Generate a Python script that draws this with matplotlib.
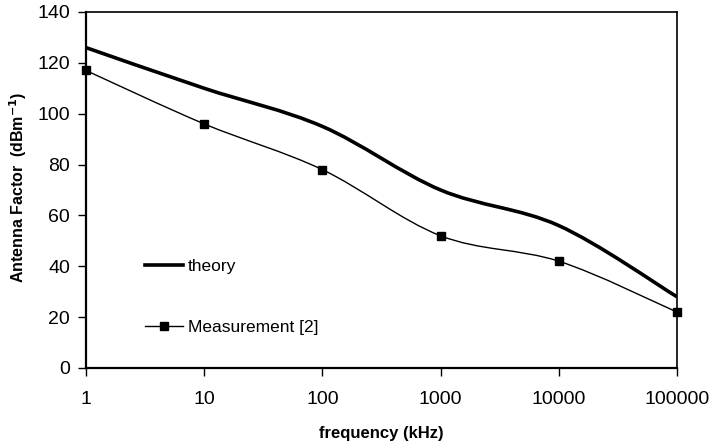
import numpy as np
import matplotlib
matplotlib.use('Agg')
import matplotlib.pyplot as plt
from matplotlib.path import Path
from matplotlib.patches import PathPatch
from matplotlib.lines import Line2D

plt.rcParams['font.family'] = ['Liberation Sans', 'DejaVu Sans']

# data
freq_khz = [1, 10, 100, 1000, 10000, 100000]
theory = [126, 110, 95, 70, 56, 28]
measurement = [117, 96, 78, 52, 42, 22]
x_ticks = [1, 10, 100, 1000, 10000, 100000]
y_ticks = [0, 20, 40, 60, 80, 100, 120, 140]


def smooth_path(xs, ys):
    # Excel-style smoothed line: cubic bezier segments, built in log-x space
    lx = np.log10(xs)
    ys = np.asarray(ys, dtype=float)
    n = len(lx)
    verts = [(xs[0], ys[0])]
    codes = [Path.MOVETO]
    for i in range(n - 1):
        p0 = (lx[max(i - 1, 0)], ys[max(i - 1, 0)])
        p1 = (lx[i], ys[i])
        p2 = (lx[i + 1], ys[i + 1])
        p3 = (lx[min(i + 2, n - 1)], ys[min(i + 2, n - 1)])
        c1 = (p1[0] + (p2[0] - p0[0]) / 6, p1[1] + (p2[1] - p0[1]) / 6)
        c2 = (p2[0] - (p3[0] - p1[0]) / 6, p2[1] - (p3[1] - p1[1]) / 6)
        for px, py in (c1, c2, p2):
            verts.append((10 ** px, py))
            codes.append(Path.CURVE4)
    return Path(verts, codes)


fig = plt.figure(figsize=(7.12, 4.46), dpi=100)
ax = fig.add_axes([86 / 712, 1 - 368 / 446, 591 / 712, 356 / 446])

ax.set_xscale('log')
ax.set_xlim(1, 100000)
ax.set_ylim(0, 140)

ax.add_patch(PathPatch(smooth_path(freq_khz, theory), fill=False,
                       edgecolor='black', linewidth=2.6, capstyle='butt'))
ax.add_patch(PathPatch(smooth_path(freq_khz, measurement), fill=False,
                       edgecolor='black', linewidth=1.0))
ax.plot(freq_khz, measurement, linestyle='none', marker='s', markersize=6,
        color='black', clip_on=False, zorder=5)

ax.set_xticks(x_ticks)
ax.set_xticklabels([str(v) for v in x_ticks])
ax.xaxis.set_minor_locator(matplotlib.ticker.NullLocator())
ax.set_yticks(y_ticks)
ax.tick_params(axis='both', direction='out', length=5.5, width=1,
               labelsize=14, colors='black')
ax.tick_params(axis='x', pad=11)
ax.tick_params(axis='y', pad=6)

for side in ['left', 'bottom']:
    ax.spines[side].set_linewidth(1.6)
for side in ['top', 'right']:
    ax.spines[side].set_linewidth(1.2)

ax.set_xlabel('frequency (kHz)', fontsize=12, fontweight='bold', labelpad=13)
ax.set_ylabel('Antenna Factor  (dBm$^{\\mathbf{-1}}$)', fontsize=11.5,
              fontweight='bold')
ax.yaxis.set_label_coords(-0.097, 0.507)

handles = [Line2D([], [], color='black', linewidth=2.6),
           Line2D([], [], color='black', linewidth=1.0, marker='s', markersize=6)]
ax.legend(handles, ['theory', 'Measurement [2]'], loc='center left',
          bbox_to_anchor=(0.0998, 0.2, 0, 0), frameon=False, fontsize=12.5,
          handlelength=2.2, handletextpad=0.25, labelspacing=2.65,
          borderpad=0, borderaxespad=0)

fig.savefig('out.png', dpi=100)
